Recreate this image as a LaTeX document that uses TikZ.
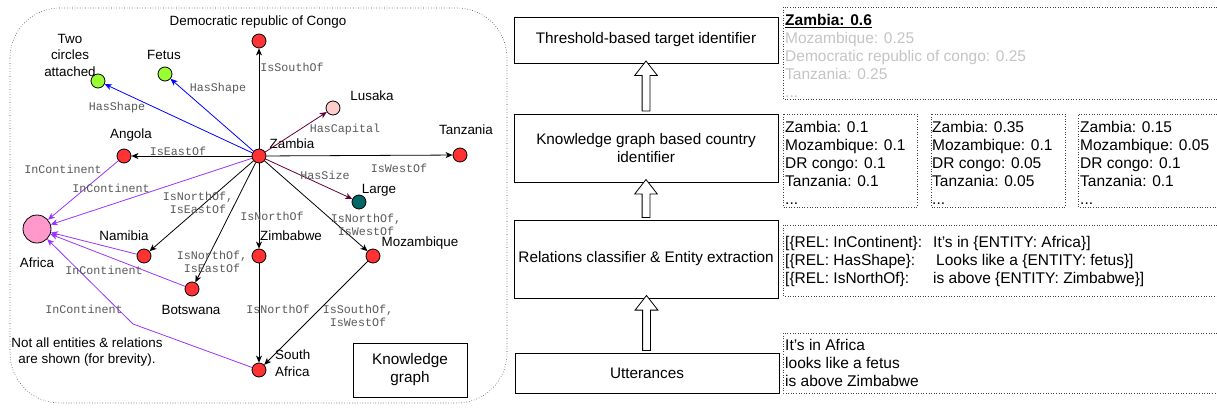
\documentclass[tikz,border=0pt]{standalone}
\usepackage{fontspec}
\setmainfont{Liberation Sans}
\setmonofont{Liberation Mono}
\usetikzlibrary{arrows.meta}
\usetikzlibrary{shapes.arrows}

\definecolor{cred}{HTML}{FF3333}
\definecolor{cgreen}{HTML}{99FF33}
\definecolor{cpink}{HTML}{FFCCCC}
\definecolor{cafrica}{HTML}{FF99CC}
\definecolor{cteal}{HTML}{006666}
\definecolor{cblue}{HTML}{0000FF}
\definecolor{cpurple}{HTML}{9933FF}
\definecolor{cmaroon}{HTML}{660033}
\definecolor{relgray}{HTML}{595959}
\definecolor{faded}{HTML}{C4C4C4}

\tikzset{
  entity/.style={circle, draw=black, fill=cred, minimum size=14pt, inner sep=0pt, line width=0.8pt},
  place/.style={font=\fontsize{13.4}{16.5}\selectfont, align=center, inner sep=0pt},
  rel/.style={font=\ttfamily\fontsize{11.7}{13.5}\selectfont, text=relgray, align=center, inner sep=0pt},
  link/.style={-{Stealth[length=7pt,width=6pt,inset=2pt]}, line width=0.8pt},
  shapelink/.style={link, draw=cblue},
  sizelink/.style={link, draw=cmaroon},
  contlink/.style={link, draw=cpurple},
  block/.style={draw, line width=0.8pt, minimum width=264pt, align=center, font=\fontsize{15.3}{18}\selectfont},
  dotbox/.style={draw=black!75, dotted, line width=0.6pt},
  scores/.style={anchor=north west, inner sep=0pt, align=left, font=\fontsize{15.5}{18}\selectfont},
  hollowup/.style={single arrow, draw, fill=white, line width=0.8pt, single arrow head extend=7.5pt,
    single arrow tip angle=76, inner xsep=0pt, inner ysep=3.5pt, minimum width=22pt, rotate=90}
}

\begin{document}
\begin{tikzpicture}[x=1pt, y=-1pt]

    \useasboundingbox (0,0) rectangle (1217,407);
    \clip (0,0) rectangle (1217,407);

    % knowledge graph
    \draw[dotbox, rounded corners=50pt] (10,8) rectangle (507,403);

    \node[entity] (zambia) at (259,156) {};
    \node[entity] (drc) at (259,41) {};
    \node[entity, fill=cgreen] (twocirc) at (98,81) {};
    \node[entity, fill=cgreen] (fetus) at (165,74) {};
    \node[entity, fill=cpink] (lusaka) at (333,108) {};
    \node[entity] (angola) at (124,156) {};
    \node[entity] (tanzania) at (460,155) {};
    \node[entity, fill=cteal] (large) at (359,202) {};
    \node[entity, fill=cafrica, minimum size=28pt] (africa) at (37,229) {};
    \node[entity] (namibia) at (144,256) {};
    \node[entity] (zimbabwe) at (259,256) {};
    \node[entity] (mozambique) at (373,256) {};
    \node[entity] (botswana) at (192,289) {};
    \node[entity] (safrica) at (259,370) {};
    \coordinate (bend) at (133,324);

    \node[place] (t-drc) at (258,22) {Democratic republic of Congo};
    \node[place] (t-twocirc) at (70,55) {Two\\circles\\attached};
    \node[place] (t-fetus) at (164,55) {Fetus};
    \node[place] (t-lusaka) at (372,96) {Lusaka};
    \node[place] (t-zambia) at (292,144) {Zambia};
    \node[place] (t-angola) at (131,135) {Angola};
    \node[place] (t-tanzania) at (466,130) {Tanzania};
    \node[place] (t-large) at (379,190) {Large};
    \node[place] (t-africa) at (37,263) {Africa};
    \node[place] (t-namibia) at (124,236) {Namibia};
    \node[place] (t-zimbabwe) at (291,236) {Zimbabwe};
    \node[place] (t-mozambique) at (420,243) {Mozambique};
    \node[place] (t-botswana) at (191,310) {Botswana};
    \node[place, anchor=west, align=left] (t-safrica) at (275,363) {South\\Africa};
    \node[place] (note) at (87,352) {Not all entities \& relations\\are shown (for brevity).};
    \node[draw, line width=0.8pt, minimum width=114pt, minimum height=54pt, align=center,
      font=\fontsize{15.3}{18}\selectfont] (kgtitle) at (410,370) {Knowledge\\graph};

    \draw[link] (zambia) -- (drc);
    \draw[shapelink] (zambia) -- (twocirc);
    \draw[shapelink] (zambia) -- (fetus);
    \draw[sizelink] (zambia) -- (lusaka);
    \draw[link] (zambia) -- (angola);
    \draw[link] (zambia) -- (tanzania);
    \draw[sizelink] (zambia) -- (large);
    \draw[link] (zambia) -- (namibia);
    \draw[link] (zambia) -- (botswana);
    \draw[link] (zambia) -- (zimbabwe);
    \draw[link] (zambia) -- (mozambique);
    \draw[link] (zimbabwe) -- (safrica);
    \draw[link] (mozambique) -- (safrica);
    \draw[contlink] (zambia) -- (africa);
    \draw[contlink] (angola) -- (africa);
    \draw[contlink] (namibia) -- (africa);
    \draw[contlink] (botswana) -- (africa);
    \draw[contlink] (safrica) -- (bend) -- (africa);

    \node[rel] (r-south) at (292,67) {IsSouthOf};
    \node[rel] (r-shape1) at (117,107) {HasShape};
    \node[rel] (r-shape2) at (218,88) {HasShape};
    \node[rel] (r-capital) at (345,129) {HasCapital};
    \node[rel] (r-east) at (178,151) {IsEastOf};
    \node[rel] (r-west) at (399,168) {IsWestOf};
    \node[rel] (r-size) at (325,175) {HasSize};
    \node[rel] (r-cont1) at (63,169) {InContinent};
    \node[rel] (r-cont2) at (111,188) {InContinent};
    \node[rel] (r-nam) at (198,203) {IsNorthOf,\\IsEastOf};
    \node[rel] (r-bots) at (212,262) {IsNorthOf,\\IsEastOf};
    \node[rel] (r-zim) at (272,216) {IsNorthOf};
    \node[rel] (r-moz) at (366,225) {IsNorthOf,\\IsWestOf};
    \node[rel] (r-cont3) at (104,270) {InContinent};
    \node[rel] (r-cont4) at (84,309) {InContinent};
    \node[rel] (r-zimsa) at (278,309) {IsNorthOf};
    \node[rel] (r-mozsa) at (358,316) {IsSouthOf,\\IsWestOf};

    % pipeline
    \node[block, minimum height=46pt] (thr) at (646,40) {Threshold-based target identifier};
    \node[block, minimum height=68pt] (kg) at (646,148) {Knowledge graph based country\\identifier};
    \node[block, minimum height=78pt] (rel) at (646,259) {Relations classifier \& Entity extraction};
    \node[block, minimum height=40pt] (utt) at (647,373) {Utterances};

    \path (kg.north) -- (thr.south) node[hollowup, midway, minimum height=50pt] (up1) {};
    \path (rel.north) -- (kg.south) node[hollowup, midway, minimum height=38pt] (up2) {};
    \path (utt.north) -- (rel.south) node[hollowup, midway, minimum height=55pt] (up3) {};

    % outputs of each stage
    \draw[dotbox] (1230,7) -- (783,7) -- (783,99) -- (1230,99);
    \draw[dotbox] (783,114) rectangle (917,207);
    \draw[dotbox] (931,114) rectangle (1065,207);
    \draw[dotbox] (1230,114) -- (1078,114) -- (1078,207) -- (1230,207);
    \draw[dotbox] (1230,225) -- (783,225) -- (783,296) -- (1230,296);
    \draw[dotbox] (1230,333) -- (783,333) -- (783,393) -- (1230,393);

    \node[scores] (s-final) at (785,14.5) {\underline{\textbf{Zambia: 0.6}}\\
      \textcolor{faded}{Mozambique: 0.25}\\
      \textcolor{faded}{Democratic republic of congo: 0.25}\\
      \textcolor{faded}{Tanzania: 0.25}\\
      \textcolor{faded}{...}};
    \node[scores] (s-one) at (785,121.5) {Zambia: 0.1\\Mozambique: 0.1\\DR congo: 0.1\\Tanzania: 0.1\\...};
    \node[scores] (s-two) at (932,121.5) {Zambia: 0.35\\Mozambique: 0.1\\DR congo: 0.05\\Tanzania: 0.05\\...};
    \node[scores] (s-three) at (1080,121.5) {Zambia: 0.15\\Mozambique: 0.05\\DR congo: 0.1\\Tanzania: 0.1\\...};
    \node[scores] (x-rel) at (785,236.5) {{[}\{REL: InContinent\}:\\{[}\{REL: HasShape\}:\\{[}\{REL: IsNorthOf\}:};
    \node[scores] (x-ent) at (933,236.5) {It's in \{ENTITY: Africa\}]\\
      \hspace*{3pt}Looks like a \{ENTITY: fetus\}]\\is above \{ENTITY: Zimbabwe\}]};
    \node[scores] (u-text) at (785,339.5) {It's in Africa\\looks like a fetus\\is above Zimbabwe};

\end{tikzpicture}
\end{document}
